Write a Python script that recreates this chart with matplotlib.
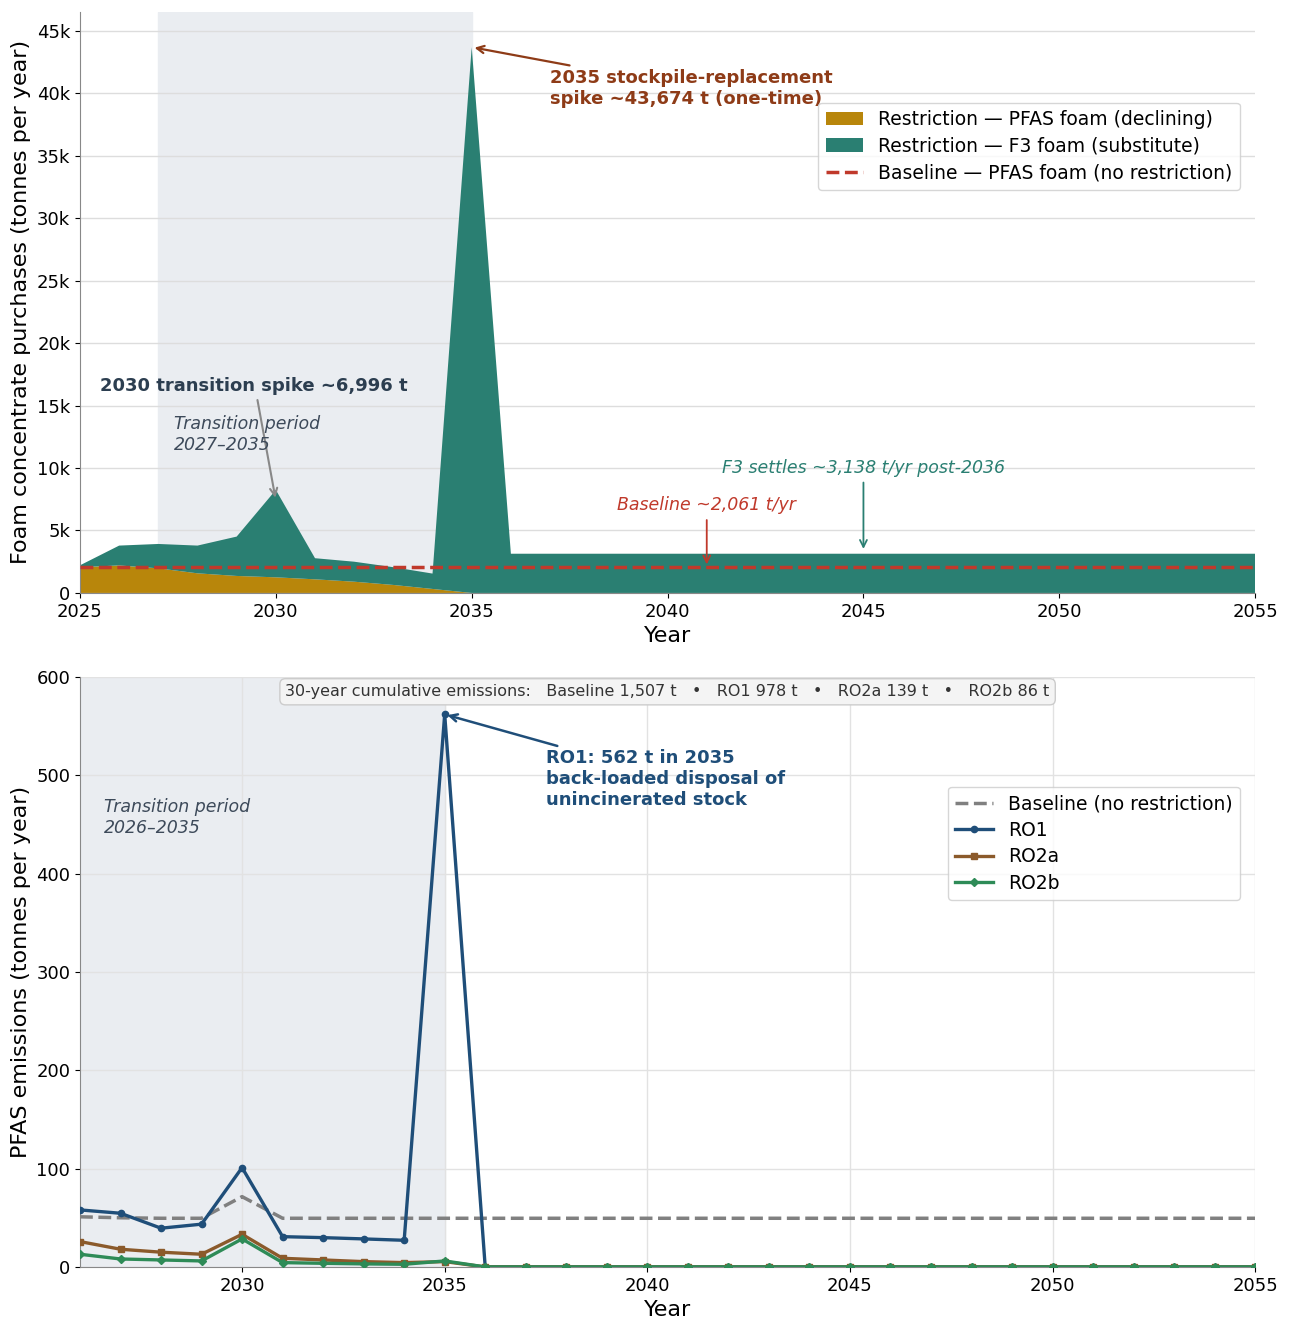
import numpy as np
import matplotlib.pyplot as plt

# ---- data: foam purchases (tonnes / year) ----
years_top = list(range(2025, 2056))
pfas_restr = [2060, 2200, 1970, 1570, 1360, 1250, 1090, 900, 640, 320] + [0] * 21
f3_restr = [150, 1590, 1950, 2220, 3150, 6996, 1690, 1600, 1420, 1230, 43674] + [3138] * 20
baseline_foam = [2061] * 31

# ---- data: PFAS emissions (tonnes / year) ----
years_bot = list(range(2026, 2056))
em_baseline = [51, 50, 49.5, 49.5, 71.5] + [49.5] * 25
em_ro1 = [58, 54.6, 39.4, 43.5, 101, 30.8, 29.8, 28.5, 27.1, 562] + [0] * 20
em_ro2a = [25.8, 18, 15, 12.9, 33.2, 8.8, 7.1, 5.4, 4.4, 5.4] + [0] * 20
em_ro2b = [12.9, 8.1, 7.1, 6.1, 28.5, 4.4, 3.7, 3.1, 2.7, 6.1] + [0] * 20

GOLD = '#B8860B'
TEAL = '#2A7F72'
RED = '#C0392B'
SHADE = '#EAEDF1'

fig = plt.figure(figsize=(12.9, 13.2), dpi=100)
ax1 = fig.add_axes([0.062, 0.5508, 0.911, 0.4402])
ax2 = fig.add_axes([0.062, 0.0402, 0.911, 0.4469])

# ---------------- top panel ----------------
ax1.axvspan(2027, 2035, color=SHADE, zorder=0)
ax1.stackplot(years_top, pfas_restr, f3_restr, colors=[GOLD, TEAL],
              labels=['Restriction \u2014 PFAS foam (declining)',
                      'Restriction \u2014 F3 foam (substitute)'], zorder=2)
ax1.plot(years_top, baseline_foam, '--', color=RED, lw=2.5, zorder=3,
         label='Baseline \u2014 PFAS foam (no restriction)')
ax1.set_xlim(2025, 2055)
ax1.set_ylim(0, 46500)
ax1.set_yticks(np.arange(0, 45001, 5000))
ax1.set_yticklabels(['0'] + ['%dk' % (v // 1000) for v in range(5000, 45001, 5000)])
ax1.set_xticks(range(2025, 2056, 5))
ax1.grid(axis='y', color='#dddddd', lw=1, zorder=1)
ax1.set_axisbelow(True)
ax1.tick_params(labelsize=13)
ax1.set_xlabel('Year', fontsize=16)
ax1.set_ylabel('Foam concentrate purchases (tonnes per year)', fontsize=16)

ax1.annotate('2035 stockpile-replacement\nspike ~43,674 t (one-time)',
             xy=(2035, 43674), xytext=(2037.0, 40400),
             fontsize=13, fontweight='bold', color='#8E3B17', va='center', ha='left',
             arrowprops=dict(arrowstyle='->', color='#8E3B17', lw=1.6))
ax1.annotate('2030 transition spike ~6,996 t',
             xy=(2030, 7400), xytext=(2025.5, 16600),
             fontsize=13, fontweight='bold', color='#2C3E50', va='center', ha='left',
             arrowprops=dict(arrowstyle='->', color='#888888', lw=1.5,
                             relpos=(0.51, 0.0)))
ax1.text(2027.4, 12700, 'Transition period\n2027\u20132035', fontsize=12.5,
         style='italic', color='#3D4A5A', va='center', ha='left')
ax1.annotate('Baseline ~2,061 t/yr', xy=(2041, 2061), xytext=(2041, 7000),
             fontsize=12.5, style='italic', color=RED, ha='center', va='center',
             arrowprops=dict(arrowstyle='->', color=RED, lw=1.3))
ax1.annotate('F3 settles ~3,138 t/yr post-2036', xy=(2045, 3300), xytext=(2045, 10000),
             fontsize=12.5, style='italic', color=TEAL, ha='center', va='center',
             arrowprops=dict(arrowstyle='->', color=TEAL, lw=1.3))
ax1.legend(loc='upper right', bbox_to_anchor=(0.995, 0.86), fontsize=13.5,
           frameon=True, edgecolor='#cccccc', handlelength=2, labelspacing=0.4)

# ---------------- bottom panel ----------------
ax2.axvspan(2026, 2035, color=SHADE, zorder=0)
ax2.plot(years_bot, em_baseline, '--', color='#808080', lw=2.5, label='Baseline (no restriction)', zorder=3)
ax2.plot(years_bot, em_ro1, '-o', color='#1F4E79', lw=2.4, ms=4.5, label='RO1', zorder=4)
ax2.plot(years_bot, em_ro2a, '-s', color='#8B5A2B', lw=2.4, ms=4.5, label='RO2a', zorder=4)
ax2.plot(years_bot, em_ro2b, '-D', color='#2E8B57', lw=2.4, ms=4, label='RO2b', zorder=4)
ax2.set_xlim(2026, 2055)
ax2.set_ylim(0, 600)
ax2.set_xticks(range(2030, 2056, 5))
ax2.set_yticks(range(0, 601, 100))
ax2.grid(True, color='#e2e2e2', lw=1)
ax2.set_axisbelow(True)
ax2.tick_params(labelsize=13)
ax2.set_xlabel('Year', fontsize=16)
ax2.set_ylabel('PFAS emissions (tonnes per year)', fontsize=16)

ax2.text(0.5, 0.975,
         '30-year cumulative emissions:   Baseline 1,507 t   \u2022   RO1 978 t   \u2022   RO2a 139 t   \u2022   RO2b 86 t',
         transform=ax2.transAxes, ha='center', va='center', fontsize=11.5, color='#333333',
         bbox=dict(boxstyle='round,pad=0.35', facecolor='#F4F4F4', edgecolor='#cccccc'))
ax2.annotate('RO1: 562 t in 2035\nback-loaded disposal of\nunincinerated stock',
             xy=(2035, 562), xytext=(2037.5, 496),
             fontsize=13, fontweight='bold', color='#1F4E79', va='center', ha='left',
             arrowprops=dict(arrowstyle='->', color='#1F4E79', lw=1.8, relpos=(0.1, 1.0)))
ax2.text(2026.6, 457, 'Transition period\n2026\u20132035', fontsize=12.5,
         style='italic', color='#3D4A5A', va='center', ha='left')
ax2.legend(loc='upper right', bbox_to_anchor=(0.995, 0.83), fontsize=13.5,
           frameon=True, edgecolor='#cccccc', handlelength=2, labelspacing=0.4)

for ax in (ax1, ax2):
    ax.spines['top'].set_visible(False)
    ax.spines['right'].set_visible(False)
    ax.spines['left'].set_color('#888888')
    ax.spines['bottom'].set_color('#888888')

fig.savefig('out.png', dpi=100)
